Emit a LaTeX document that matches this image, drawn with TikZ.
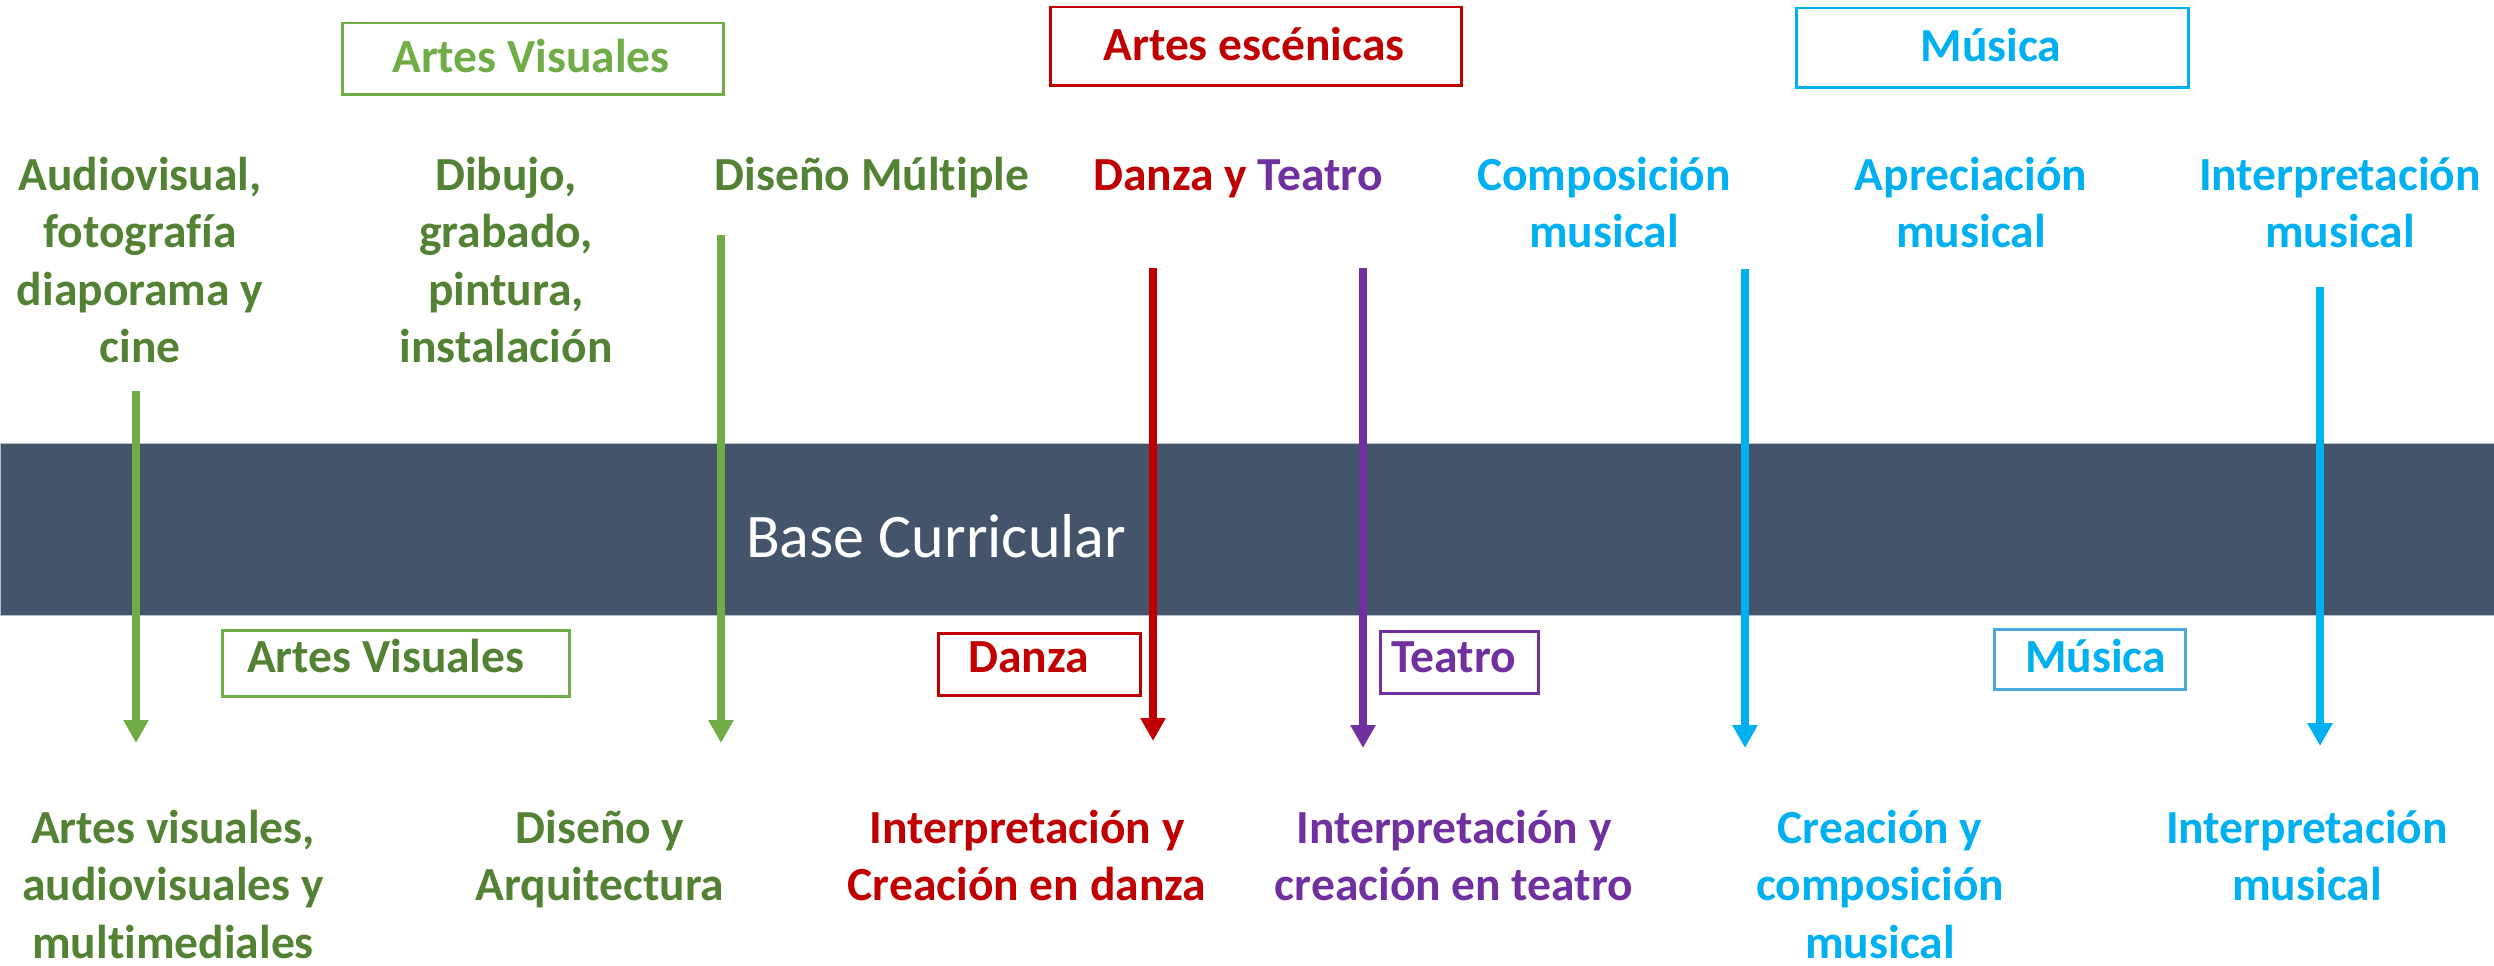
\documentclass[tikz,border=0pt]{standalone}
\usepackage{fontspec}
\setmainfont{Carlito}[Ligatures={NoCommon}]
\usetikzlibrary{arrows.meta}
\definecolor{lgreen}{HTML}{70AD47}
\definecolor{dgreen}{HTML}{548235}
\definecolor{cred}{HTML}{C00000}
\definecolor{cpurple}{HTML}{7030A0}
\definecolor{ccyan}{HTML}{00B0F0}
\definecolor{cblue}{HTML}{4BA9DA}
\definecolor{cband}{HTML}{44546A}
\definecolor{cbandedge}{HTML}{B8BFC9}
\newcommand{\mlines}[1]{\begin{tabular}[t]{@{}c@{}}#1\end{tabular}}
\begin{document}
\begin{tikzpicture}[x=1pt,y=-1pt,
  lbl/.style={inner sep=0pt, font=\fontsize{47.5}{57.5}\selectfont\bfseries},
  labtext/.style={lbl, anchor=base},
  boxst/.style={draw, line width=2.5pt, inner sep=0pt, anchor=north west},
  arr/.style={line width=8pt, -{Triangle[length=23pt,width=24pt]}}]
\useasboundingbox (0,0) rectangle (2494,966);
% band
\node[fill=cband, draw=cbandedge, line width=1.2pt, inner sep=0pt, anchor=north west,
      minimum width=2494pt, minimum height=172pt] (band) at (0,443) {};
\node[inner sep=0pt, anchor=base west, text=white, font=\fontsize{62}{74}\selectfont] (bctext) at (746,557) {Base Curricular};
% top boxes
\node[boxst, draw=lgreen, minimum width=381pt, minimum height=71pt] (tavbox) at (341,22) {};
\node[labtext, text=lgreen] (tav) at (531,73) {Artes Visuales};
\node[boxst, draw=cred, minimum width=411pt, minimum height=78pt] (taebox) at (1049,6) {};
\node[labtext, text=cred] (tae) at (1254,60) {Artes escénicas};
\node[boxst, draw=ccyan, minimum width=392pt, minimum height=79pt] (tmubox) at (1795,7) {};
\node[labtext, text=ccyan] (tmu) at (1991,62) {Música};
% top texts
\node[labtext, text=dgreen] (t1) at (140,190) {\mlines{Audiovisual,\\fotografía\\diaporama y\\cine}};
\node[labtext, text=dgreen] (t2) at (506,190) {\mlines{Dibujo,\\grabado,\\pintura,\\instalación}};
\node[labtext, text=dgreen] (t3) at (872,190) {Diseño Múltiple};
\node[labtext] (t4) at (1238,190) {\textcolor{cred}{Danza y} \textcolor{cpurple}{Teatro}};
\node[labtext, text=ccyan] (t5) at (1604,190) {\mlines{Composición\\musical}};
\node[labtext, text=ccyan] (t6) at (1971,190) {\mlines{Apreciación\\musical}};
\node[labtext, text=ccyan] (t7) at (2340,190) {\mlines{Interpretación\\musical}};
% bottom boxes
\node[boxst, draw=lgreen, minimum width=347pt, minimum height=66pt] (bavbox) at (221,629) {};
\node[lbl, anchor=base west, text=dgreen] (bav) at (247,672) {Artes Visuales};
\node[boxst, draw=cred, minimum width=202pt, minimum height=62pt] (bdabox) at (937,632) {};
\node[lbl, anchor=base west, text=cred] (bda) at (968,672) {Danza};
\node[boxst, draw=cpurple, minimum width=158pt, minimum height=62pt] (btebox) at (1379,630) {};
\node[lbl, anchor=base west, text=cpurple] (bte) at (1391,672) {Teatro};
\node[boxst, draw=cblue, minimum width=191pt, minimum height=60pt] (bmubox) at (1993,628) {};
\node[lbl, anchor=base west, text=ccyan] (bmu) at (2025,672) {Música};
% bottom texts
\node[labtext, text=dgreen] (b1) at (173,843) {\mlines{Artes visuales,\\audiovisuales y\\multimediales}};
\node[labtext, text=dgreen] (b2) at (600,843) {\mlines{Diseño y\\Arquitectura}};
\node[labtext, text=cred] (b3) at (1027,843) {\mlines{Interpretación y\\Creación en danza}};
\node[labtext, text=cpurple] (b4) at (1454,843) {\mlines{Interpretación y\\creación en teatro}};
\node[labtext, text=ccyan] (b5) at (1880,843) {\mlines{Creación y\\composición\\musical}};
\node[labtext, text=ccyan] (b6) at (2307,843) {\mlines{Interpretación\\musical}};
% arrow ends
\coordinate (a1s) at (136,391); \coordinate (a1e) at (136,743);
\coordinate (a2s) at (721,235); \coordinate (a2e) at (721,743);
\coordinate (a3s) at (1153,268); \coordinate (a3e) at (1153,741);
\coordinate (a4s) at (1363,268); \coordinate (a4e) at (1363,748);
\coordinate (a5s) at (1745,269); \coordinate (a5e) at (1745,748);
\coordinate (a6s) at (2320,287); \coordinate (a6e) at (2320,746);
\draw[arr, lgreen] (a1s) -- (a1e);
\draw[arr, lgreen] (a2s) -- (a2e);
\draw[arr, cred] (a3s) -- (a3e);
\draw[arr, cpurple] (a4s) -- (a4e);
\draw[arr, ccyan] (a5s) -- (a5e);
\draw[arr, ccyan] (a6s) -- (a6e);
\end{tikzpicture}
\end{document}
